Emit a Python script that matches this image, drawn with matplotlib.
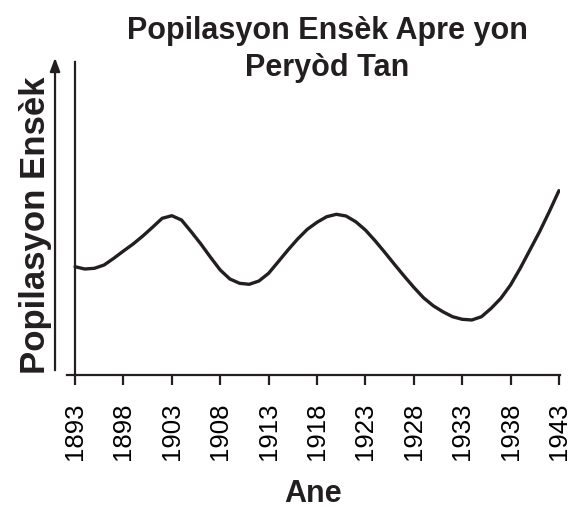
import matplotlib
matplotlib.use("Agg")
import matplotlib.pyplot as plt

plt.rcParams["font.family"] = ["Liberation Sans", "DejaVu Sans"]

# values (arbitrary population units)
years = list(range(1893, 1944))
population = [
    108.3, 106.0, 106.7, 110.0, 116.7, 124.0, 131.0, 139.0, 147.7, 156.7,
    159.3, 155.0, 143.3, 131.0, 117.7, 105.0, 96.0, 91.7, 90.7, 94.0,
    101.7, 113.3, 125.0, 136.0, 145.7, 152.7, 158.3, 160.7, 159.0, 153.3,
    145.0, 134.3, 122.7, 110.7, 99.0, 87.7, 77.3, 69.3, 63.3, 58.3,
    55.7, 55.0, 58.3, 66.7, 76.7, 90.0, 106.7, 125.0, 143.3, 163.3,
    184.3,
]
tick_years = list(range(1893, 1944, 5))

title = "Popilasyon Ensèk Apre yon\nPeryòd Tan"
xlabel = "Ane"
ylabel = "Popilasyon Ensèk"

fig = plt.figure(figsize=(5.69, 5.17), dpi=100)
ax = fig.add_axes([0.1178, 0.2747, 0.8662, 0.6053])

ax.plot(years, population, color="#231f20", lw=2.4,
        solid_capstyle="round", solid_joinstyle="round")

ax.set_xlim(1892.17, 1943.1)
ax.set_ylim(0, 313)
ax.spines["top"].set_visible(False)
ax.spines["right"].set_visible(False)
ax.spines["left"].set_position(("data", 1893))
for s in ("left", "bottom"):
    ax.spines[s].set_linewidth(1.6)
    ax.spines[s].set_color("#231f20")

ax.set_yticks([])
ax.set_xticks(tick_years)
ax.set_xticklabels([str(y) for y in tick_years], rotation=90, fontsize=18.5)
ax.tick_params(axis="x", length=7, width=1.6, color="#231f20", pad=13)

fig.text(0.575, 0.969, title, ha="center", va="top", fontsize=22,
         fontweight="bold", linespacing=1.3, color="#231f20")
fig.text(0.551, 0.015, xlabel, ha="center", va="bottom", fontsize=22,
         fontweight="bold", color="#231f20")
fig.text(0.062, 0.564, ylabel, ha="center", va="center", rotation=90,
         fontsize=25, fontweight="bold", color="#231f20")

# arrow alongside the y axis
ax.annotate("", xy=(0.0967, 0.8936), xytext=(0.0967, 0.2785),
            xycoords="figure fraction", textcoords="figure fraction",
            arrowprops=dict(arrowstyle="-|>,head_length=0.8,head_width=0.3",
                            color="#231f20", lw=1.6))

fig.savefig("out.png", dpi=100)
